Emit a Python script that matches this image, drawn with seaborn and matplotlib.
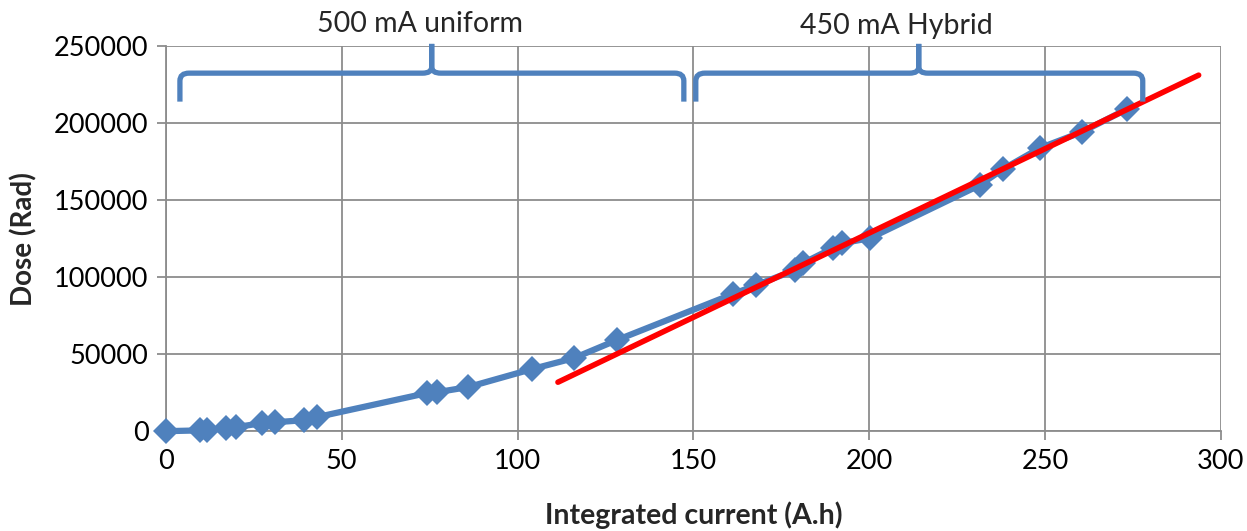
import numpy as np
import pandas as pd
import matplotlib
matplotlib.use("Agg")
import matplotlib.pyplot as plt
import seaborn as sns
from matplotlib.path import Path
from matplotlib.patches import PathPatch

# ---- data ----
current_ah = [0, 9.7, 11.7, 17.1, 19.9, 27.3, 31.0, 39.2, 42.9, 74.2, 77.1, 85.9,
              104.1, 116.0, 128.2, 161.2, 167.8, 178.8, 181.1, 189.6, 192.2, 200.2,
              231.4, 238.0, 248.5, 260.4, 273.2]
dose_rad = [0, 500, 600, 2000, 2600, 5200, 5800, 7100, 9100, 24700, 25300, 28600,
            40300, 47400, 59100, 89000, 94800, 104500, 109000, 118800, 122000, 125300,
            159700, 170100, 183800, 194200, 209000]
fit_x = [111.5, 293.7]
fit_y = [31800, 231200]
x_ticks = [0, 50, 100, 150, 200, 250, 300]
y_ticks = [0, 50000, 100000, 150000, 200000, 250000]
regions = ["500 mA uniform", "450 mA Hybrid"]

sns.set_theme(style="white")
plt.rcParams['font.family'] = ['Lato', 'DejaVu Sans']

df = pd.DataFrame({"x": current_ah, "y": dose_rad})
fit = pd.DataFrame({"x": fit_x, "y": fit_y})

fig = plt.figure(figsize=(12.47, 5.31), dpi=100)
ax = fig.add_axes([0.133, 0.188, 0.846, 0.725])

sns.lineplot(data=df, x="x", y="y", ax=ax, color="#4F81BD", lw=4.5,
             marker="D", markersize=13, markeredgewidth=0, zorder=3, clip_on=False)
sns.lineplot(data=fit, x="x", y="y", ax=ax, color="#FF0000", lw=4.0, zorder=4)

ax.set_xlim(0, 300)
ax.set_ylim(0, 250000)
ax.set_xticks(x_ticks)
ax.set_yticks(y_ticks)
ax.set_xticklabels([str(v) for v in x_ticks])
ax.set_yticklabels([str(v) for v in y_ticks])
ax.grid(True, color="#8c8c8c", lw=1.3)
ax.set_axisbelow(True)
for s in ["top", "right"]:
    ax.spines[s].set_visible(False)
for s in ["left", "bottom"]:
    ax.spines[s].set_color("#8c8c8c")
    ax.spines[s].set_linewidth(1.3)
ax.tick_params(axis="both", which="both", direction="out", length=6.5, width=1.3,
               color="#8c8c8c", labelsize=19.5, labelcolor="black", pad=6, left=True, bottom=True)
ax.set_xlabel("Integrated current (A.h)", fontsize=20.5, fontweight="bold", labelpad=20)
ax.set_ylabel("Dose (Rad)", fontsize=20, fontweight="bold", labelpad=12)


def brace(ax, x0, x1, xm, ybar, yend, ytip, rx=2.6, ry=5000):
    verts = [(x0, yend), (x0, ybar - ry), (x0, ybar), (x0 + rx, ybar),
             (xm - rx, ybar), (xm, ybar), (xm, ybar + ry * 0.8), (xm, ytip)]
    codes = [Path.MOVETO, Path.LINETO, Path.CURVE3, Path.CURVE3,
             Path.LINETO, Path.CURVE3, Path.CURVE3, Path.LINETO]
    verts2 = [(x1, yend), (x1, ybar - ry), (x1, ybar), (x1 - rx, ybar),
              (xm + rx, ybar), (xm, ybar), (xm, ybar + ry * 0.8), (xm, ytip)]
    for v in (verts, verts2):
        p = PathPatch(Path(v, codes), facecolor="none", edgecolor="#4F81BD",
                      lw=3.8, clip_on=False, zorder=5, capstyle="butt")
        ax.add_patch(p)


brace(ax, 4.0, 147.3, 75.6, 232500, 214000, 251500)
brace(ax, 150.7, 277.8, 214.1, 232500, 214000, 251500)
ax.text(72.2, 264500, regions[0], ha="center", va="center", fontsize=20.5, clip_on=False)
ax.text(207.8, 263000, regions[1], ha="center", va="center", fontsize=20.5, clip_on=False)

fig.savefig("out.png", dpi=100)
